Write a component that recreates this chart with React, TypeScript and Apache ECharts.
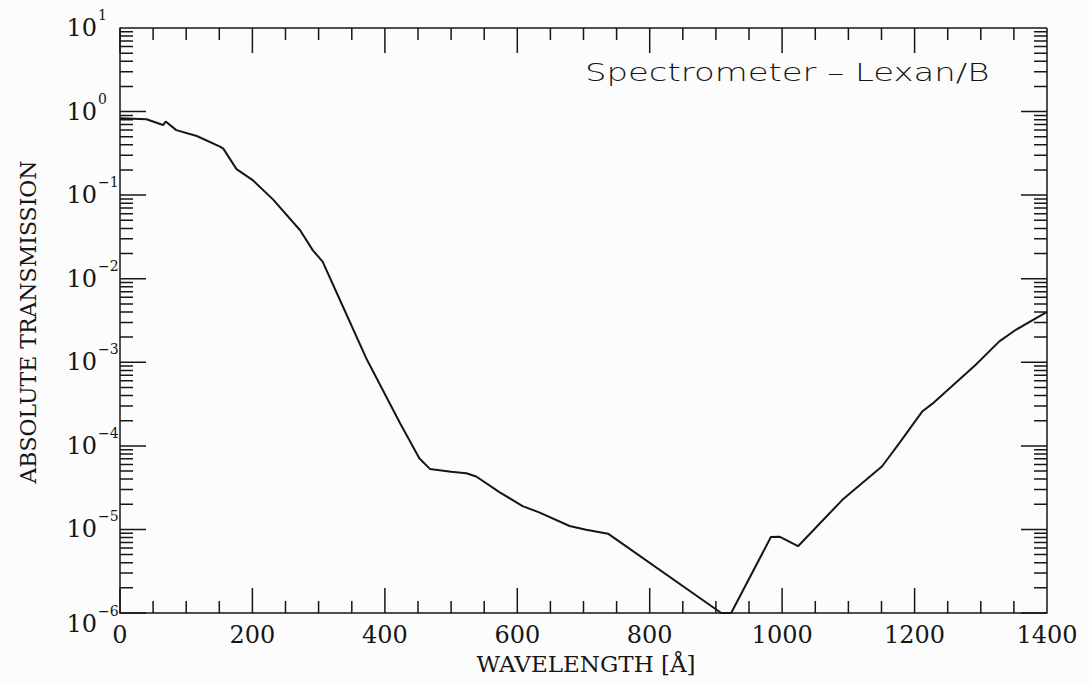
import React, { useEffect, useRef } from "react";
import * as echarts from "echarts";

// Filter transmission curve: wavelength in Å, absolute transmission
const wavelength = [
  0, 40, 65, 69, 85, 116, 151, 156, 176, 201, 231, 272, 291, 306, 332, 373, 423,
  452, 468, 500, 523, 538, 573, 608, 633, 679, 704, 737, 908, 923, 983, 996,
  1024, 1091, 1151, 1177, 1212, 1227, 1292, 1328, 1353, 1400,
];
const transmission = [
  0.83, 0.81, 0.69, 0.76, 0.6, 0.51, 0.38, 0.36, 0.205, 0.15, 0.089, 0.038,
  0.022, 0.016, 0.0056, 1.07e-3, 1.86e-4, 7.1e-5, 5.3e-5, 4.9e-5, 4.7e-5,
  4.3e-5, 2.8e-5, 1.9e-5, 1.6e-5, 1.1e-5, 9.9e-6, 8.9e-6, 1.0e-6, 1.0e-6,
  8.1e-6, 8.2e-6, 6.3e-6, 2.26e-5, 5.7e-5, 1.08e-4, 2.6e-4, 3.2e-4, 9.3e-4,
  1.78e-3, 2.45e-3, 4.0e-3,
];

// Axis ranges and tick layout
const xRange = [0, 1400];
const xMajorStep = 200;
const xMinorStep = 50;
const yRange = [1e-6, 10];
const decades = [-6, -5, -4, -3, -2, -1, 0, 1];
const minorMultipliers = [2, 3, 4, 5, 6, 7, 8, 9];

const titleText = "Spectrometer – Lexan/B";
const yTitle = "ABSOLUTE TRANSMISSION";
const xTitle = "WAVELENGTH [Å]";

const INK = "#161616";
const SERIF = "DejaVu Serif";
const SANS = "DejaVu Sans";
const MAJOR_LEN = 25;
const MINOR_LEN = 12;
const FRAME_W = 1.5;

export default function App() {
  const ref = useRef<HTMLDivElement>(null);

  useEffect(() => {
    if (!ref.current) return;
    const chart = echarts.init(ref.current, null, { renderer: "svg" });

    chart.setOption({
      animation: false,
      backgroundColor: "#fcfcfc",
      grid: { left: 120, right: 42, top: 28, bottom: 72 },
      xAxis: [
        {
          type: "value",
          min: xRange[0],
          max: xRange[1],
          interval: xMajorStep,
          position: "bottom",
          axisLine: { show: true, lineStyle: { color: INK, width: FRAME_W } },
          axisTick: { show: false },
          minorTick: { show: false },
          splitLine: { show: false },
          axisLabel: {
            fontFamily: SERIF,
            fontSize: 24,
            color: INK,
            margin: 10,
            formatter: (v: number) => String(v),
          },
        },
      ],
      yAxis: [
        {
          type: "log",
          min: yRange[0],
          max: yRange[1],
          position: "left",
          axisLine: { show: true, lineStyle: { color: INK, width: FRAME_W } },
          axisTick: { show: false },
          minorTick: { show: false },
          splitLine: { show: false },
          axisLabel: { show: false },
        },
      ],
      series: [
        {
          type: "line",
          data: wavelength.map((w, i) => [w, transmission[i]]),
          showSymbol: false,
          lineStyle: { color: INK, width: 2 },
        },
      ],
    });

    const xPx = (v: number) => chart.convertToPixel({ xAxisIndex: 0 }, v) as number;
    const yPx = (v: number) => chart.convertToPixel({ yAxisIndex: 0 }, v) as number;
    const r1 = (n: number) => Math.round(n * 10) / 10;

    const left = xPx(xRange[0]);
    const right = xPx(xRange[1]);
    const bottom = yPx(yRange[0]);
    const top = yPx(yRange[1]);

    // Frame (top and right) plus every inward tick, collected into one path
    const d: string[] = [];
    const seg = (x1: number, y1: number, x2: number, y2: number) =>
      d.push(`M${r1(x1)} ${r1(y1)}L${r1(x2)} ${r1(y2)}`);

    seg(left, top, right, top);
    seg(right, top, right, bottom);

    for (let v = xRange[0]; v <= xRange[1]; v += xMinorStep) {
      const len = v % xMajorStep === 0 ? MAJOR_LEN : MINOR_LEN;
      const x = xPx(v);
      seg(x, bottom, x, bottom - len);
      seg(x, top, x, top + len);
    }

    const labels: any[] = [];
    decades.forEach((d0) => {
      const values = [Math.pow(10, d0)];
      if (d0 < decades[decades.length - 1]) {
        minorMultipliers.forEach((m) => values.push(m * Math.pow(10, d0)));
      }
      values.forEach((v, i) => {
        const len = (i === 0 ? MAJOR_LEN : MINOR_LEN) + 1;
        const y = yPx(v);
        seg(left, y, left + len, y);
        seg(right - len, y, right, y);
      });

      // decade label: 10 with a superscript exponent
      const yc = yPx(Math.pow(10, d0)) + (d0 === decades[0] ? 11 : 0);
      labels.push({
        type: "text",
        x: 97,
        y: yc,
        style: {
          text: "10",
          fontFamily: SERIF,
          fontSize: 24,
          fill: INK,
          align: "right",
          verticalAlign: "middle",
        },
      });
      labels.push({
        type: "text",
        x: 98,
        y: yc - 13,
        style: {
          text: d0 < 0 ? "\u2212" + -d0 : String(d0),
          fontFamily: SERIF,
          fontSize: 14,
          fill: INK,
          align: "left",
          verticalAlign: "middle",
        },
      });
    });

    echarts.graphic.registerShape("frameTicks", echarts.graphic.extendPath(d.join(""), {}));

    const titles = [
      {
        type: "text",
        x: 28,
        y: 322,
        rotation: Math.PI / 2,
        style: {
          text: yTitle,
          fontFamily: SERIF,
          fontSize: 22,
          fill: INK,
          align: "center",
          verticalAlign: "middle",
        },
      },
      {
        type: "text",
        x: 586,
        y: 664,
        style: {
          text: xTitle,
          fontFamily: SERIF,
          fontSize: 23,
          fill: INK,
          align: "center",
          verticalAlign: "middle",
        },
      },
      {
        type: "text",
        x: 585,
        y: 72,
        scaleX: 1.355,
        style: {
          text: titleText,
          fontFamily: SANS,
          fontWeight: 200,
          fontSize: 25,
          fill: INK,
          align: "left",
          verticalAlign: "middle",
        },
      },
    ];

    chart.setOption({
      graphic: [
        {
          type: "frameTicks",
          x: 0,
          y: 0,
          scaleX: 1,
          scaleY: 1,
          style: { fill: "none", stroke: INK, lineWidth: FRAME_W },
        },
        ...labels,
        ...titles,
      ],
    });

    return () => chart.dispose();
  }, []);

  return (
    <div ref={ref} style={{ position: "fixed", left: 0, top: 0, width: 1089, height: 685 }} />
  );
}
